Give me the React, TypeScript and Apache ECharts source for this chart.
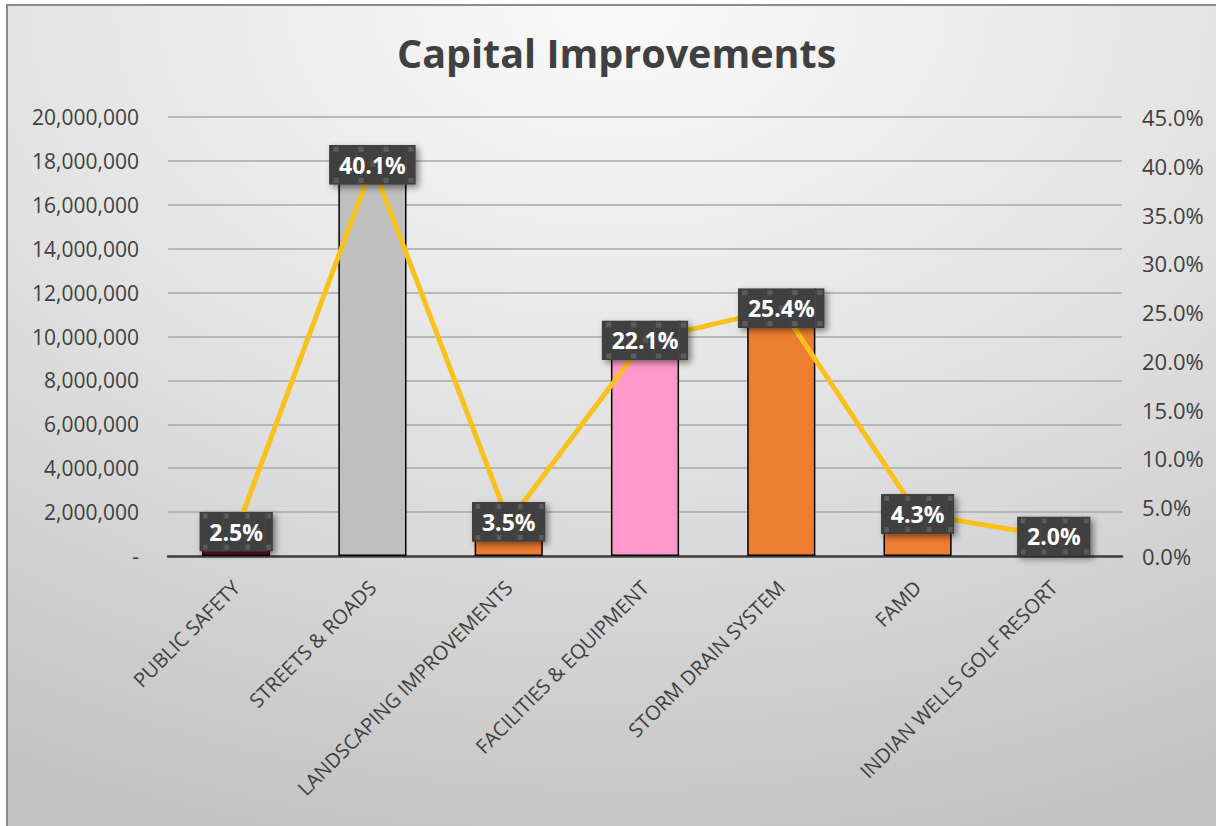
import React, { useEffect, useRef } from "react";
import * as echarts from "echarts";

const categories = [
  "PUBLIC SAFETY",
  "STREETS & ROADS",
  "LANDSCAPING IMPROVEMENTS",
  "FACILITIES & EQUIPMENT",
  "STORM DRAIN SYSTEM",
  "FAMD",
  "INDIAN WELLS GOLF RESORT",
];
const amounts = [1090000, 17500000, 1530000, 9640000, 11080000, 1880000, 870000];
const shares = [2.5, 40.1, 3.5, 22.1, 25.4, 4.3, 2.0];
const barColors = ["#6e1230", "#bfbfbf", "#ed7d31", "#ff99cc", "#ed7d31", "#ed7d31", "#a5a5a5"];
const leftTicks = { min: 0, max: 20000000, interval: 2000000 };
const rightTicks = { min: 0, max: 45, interval: 5 };

const FONT = "'Open Sans', sans-serif";

function labelPattern(): string {
  const w = 80;
  const h = 40;
  let rects = "";
  for (let x = 4; x < w; x += 23) {
    rects += `<rect x="${x}" y="2" width="5" height="5" fill="#5b5b5b"/>`;
    rects += `<rect x="${x}" y="33" width="5" height="5" fill="#5b5b5b"/>`;
    rects += `<rect x="${x + 11}" y="17" width="5" height="5" fill="#555555"/>`;
    rects += `<rect x="${x + 21}" y="0" width="1" height="${h}" fill="#474747"/>`;
  }
  const svg = `<svg xmlns="http://www.w3.org/2000/svg" width="${w}" height="${h}" viewBox="0 0 ${w} ${h}" preserveAspectRatio="none"><rect width="${w}" height="${h}" fill="#404040"/>${rects}</svg>`;
  return "data:image/svg+xml;charset=utf-8," + encodeURIComponent(svg);
}

export default function App() {
  const ref = useRef<HTMLDivElement>(null);
  useEffect(() => {
    document.body.style.margin = "0";
    const chart = echarts.init(ref.current!, undefined, { renderer: "svg" });
    chart.setOption({
      animation: false,
      backgroundColor: "#ffffff",
      textStyle: { fontFamily: FONT },
      graphic: [
        {
          type: "rect",
          z: -10,
          silent: true,
          shape: { x: 7, y: 5, width: 1220, height: 830 },
          style: {
            fill: new echarts.graphic.RadialGradient(0.5, 0, 1.05, [
              { offset: 0, color: "#fafafa" },
              { offset: 0.5, color: "#e2e2e2" },
              { offset: 1, color: "#c2c2c2" },
            ]),
            stroke: "#8a8a8a",
            lineWidth: 2,
          },
        },
      ],
      title: {
        text: "Capital Improvements",
        left: 392,
        top: 28,
        textStyle: { fontFamily: FONT, fontSize: 39.5, fontWeight: "bold", color: "#404040" },
      },
      grid: { left: 168, right: 94, top: 117, bottom: 270 },
      xAxis: {
        type: "category",
        data: categories,
        axisLine: { lineStyle: { color: "#404040", width: 2.5 } },
        axisTick: { length: 8, lineStyle: { color: "#404040", width: 2.5 } },
        axisLabel: {
          rotate: 45,
          margin: 28,
          fontSize: 20,
          color: "#404040",
          fontFamily: FONT,
          interval: 0,
        },
      },
      yAxis: [
        {
          type: "value",
          min: leftTicks.min,
          max: leftTicks.max,
          interval: leftTicks.interval,
          axisLine: { show: false },
          axisTick: { show: false },
          splitLine: { lineStyle: { color: "#a8a8a8", width: 1.5 } },
          axisLabel: {
            margin: 29,
            fontSize: 21,
            color: "#404040",
            fontFamily: FONT,
            formatter: (v: number) => (v === 0 ? "-" : v.toLocaleString("en-US")),
          },
        },
        {
          type: "value",
          min: rightTicks.min,
          max: rightTicks.max,
          interval: rightTicks.interval,
          axisLine: { show: false },
          axisTick: { show: false },
          splitLine: { show: false },
          axisLabel: {
            margin: 20,
            fontSize: 22,
            color: "#404040",
            fontFamily: FONT,
            formatter: (v: number) => v.toFixed(1) + "%",
          },
        },
      ],
      series: [
        {
          type: "bar",
          yAxisIndex: 0,
          barWidth: "50%",
          data: amounts.map((v, i) => ({
            value: v,
            itemStyle: { color: barColors[i], borderColor: "#000000", borderWidth: 1.5 },
          })),
          z: 2,
        },
        {
          type: "line",
          yAxisIndex: 1,
          data: shares,
          symbol: "circle",
          symbolSize: 2,
          showSymbol: true,
          itemStyle: { color: "#f9c11c" },
          lineStyle: { color: "#f9c11c", width: 5 },
          z: 3,
          label: {
            show: true,
            position: "inside",
            formatter: (p: any) => p.value.toFixed(1) + "%",
            color: "#ffffff",
            fontWeight: "bold",
            fontSize: 23,
            fontFamily: FONT,
            backgroundColor: { image: labelPattern() },
            padding: [9, 10, 8, 10],
            shadowColor: "rgba(0,0,0,0.45)",
            shadowBlur: 6,
            shadowOffsetX: 3,
            shadowOffsetY: 3,
          },
        },
      ],
    });
    return () => chart.dispose();
  }, []);
  return <div ref={ref} style={{ width: 1216, height: 826 }} />;
}
